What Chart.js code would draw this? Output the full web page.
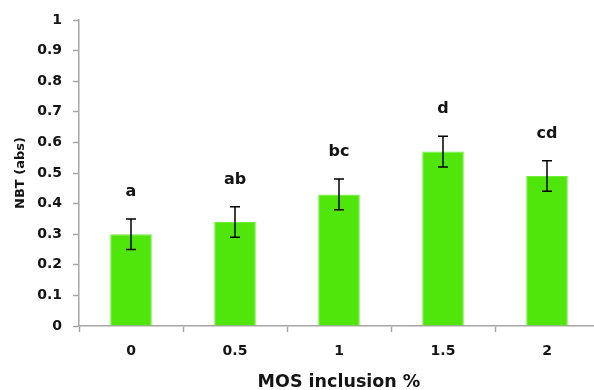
<!DOCTYPE html>
<html>
<head>
<meta charset="utf-8">
<script src="https://cdn.jsdelivr.net/npm/chart.js@4.4.0/dist/chart.umd.min.js"></script>
<style>
  html, body { margin: 0; padding: 0; background: #fff; overflow: hidden; }
  #wrap { width: 600px; height: 390px; }
</style>
</head>
<body>
<div id="wrap"><canvas id="grafico" width="600" height="390"></canvas></div>
<script>
// datos
const categorias = ["0", "0.5", "1", "1.5", "2"];
const valores = [0.30, 0.34, 0.43, 0.57, 0.49];
const errores = [0.05, 0.05, 0.05, 0.05, 0.05];
const letras = ["a", "ab", "bc", "d", "cd"];
const ticksY = [0, 0.1, 0.2, 0.3, 0.4, 0.5, 0.6, 0.7, 0.8, 0.9, 1];

const fuente = "'DejaVu Sans', sans-serif";
const colorTexto = "#141414";
const colorEje = "#a6a6a6";

// barras de error y letras encima
const pluginError = {
    id: "barrasError",
    afterDatasetsDraw(chart) {
        const ctx = chart.ctx;
        const meta = chart.getDatasetMeta(0);
        const y = chart.scales.y;
        ctx.save();
        meta.data.forEach((bar, i) => {
            const yArriba = y.getPixelForValue(valores[i] + errores[i]);
            const yAbajo = y.getPixelForValue(valores[i] - errores[i]);
            ctx.strokeStyle = "#000";
            ctx.lineWidth = 1.5;
            ctx.beginPath();
            ctx.moveTo(bar.x, yArriba);
            ctx.lineTo(bar.x, yAbajo);
            ctx.moveTo(bar.x - 5, yArriba);
            ctx.lineTo(bar.x + 5, yArriba);
            ctx.moveTo(bar.x - 5, yAbajo);
            ctx.lineTo(bar.x + 5, yAbajo);
            ctx.stroke();

            ctx.fillStyle = colorTexto;
            ctx.font = "bold 16px " + fuente;
            ctx.textAlign = "center";
            ctx.textBaseline = "middle";
            ctx.fillText(letras[i], bar.x, yArriba - 27);
        });
        ctx.restore();
    }
};

new Chart(document.getElementById("grafico").getContext("2d"), {
    type: "bar",
    data: {
        labels: categorias,
        datasets: [{
            data: valores,
            backgroundColor: "#50e60c",
            borderColor: "#6ef03a",
            borderWidth: 1,
            categoryPercentage: 1,
            barPercentage: 0.4
        }]
    },
    options: {
        responsive: false,
        animation: false,
        layout: { padding: { top: 20, right: 1, bottom: 0, left: 0 } },
        plugins: {
            legend: { display: false },
            tooltip: { enabled: false }
        },
        scales: {
            x: {
                grid: {
                    offset: true,
                    drawOnChartArea: false,
                    color: colorEje,
                    tickLength: 6,
                    tickWidth: 1.5
                },
                border: { color: colorEje, width: 1.5 },
                ticks: {
                    color: colorTexto,
                    font: { family: fuente, size: 14, weight: "bold" },
                    padding: 11
                },
                title: {
                    display: true,
                    text: "MOS inclusion %",
                    color: colorTexto,
                    font: { family: fuente, size: 17.5, weight: "bold" },
                    padding: { top: 0, bottom: -3 }
                },
                afterFit(scale) { scale.height = 64; }
            },
            y: {
                min: 0,
                max: 1,
                afterBuildTicks(scale) { scale.ticks = ticksY.map(v => ({ value: v })); },
                grid: {
                    drawOnChartArea: false,
                    color: colorEje,
                    tickLength: 6,
                    tickWidth: 1.5
                },
                border: { color: colorEje, width: 1.5 },
                ticks: {
                    color: colorTexto,
                    font: { family: fuente, size: 14, weight: "bold" },
                    padding: 11,
                    callback: v => String(v)
                },
                title: {
                    display: true,
                    text: "NBT (abs)",
                    color: colorTexto,
                    font: { family: fuente, size: 13, weight: "bold" },
                    padding: { top: 13, bottom: 0 }
                },
                afterFit(scale) { scale.width = 79; }
            }
        }
    },
    plugins: [pluginError]
});
</script>
</body>
</html>
